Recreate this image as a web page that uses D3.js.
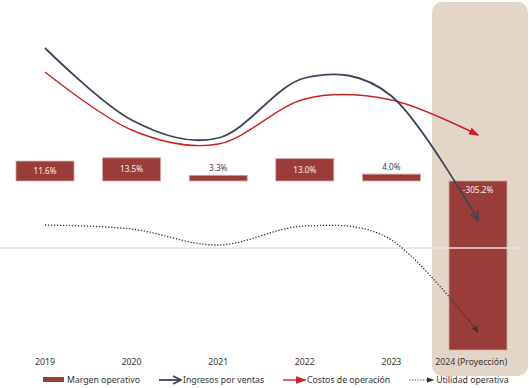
<!DOCTYPE html>
<html>
<head>
<meta charset="utf-8">
<script src="https://cdn.jsdelivr.net/npm/d3@7"></script>
<style>
  body { margin: 0; background: #fff; }
  text { font-family: "Noto Sans", sans-serif; }
</style>
</head>
<body>
<svg id="chart"></svg>
<script>
// Chart size
const width = 531, height = 388;

// Data
const years = ["2019", "2020", "2021", "2022", "2023", "2024 (Proyección)"];
const margen = [11.6, 13.5, 3.3, 13.0, 4.0, -305.2];     // Margen operativo (%)
const ingresos = [100, 64, 55, 85, 76, 14];               // Ingresos por ventas
const costos = [88, 59, 52, 74.5, 74, 56.5];              // Costos de operación
const utilidad = [11.5, 9.5, 1.5, 11, 4, -42];            // Utilidad operativa
const legendNames = ["Margen operativo", "Ingresos por ventas", "Costos de operación", "Utilidad operativa"];

const svg = d3.select("#chart")
    .attr("width", width)
    .attr("height", height);

// Scales
const x = d3.scaleBand()
    .domain(years)
    .range([1.7, 521.3])
    .paddingInner(0.33)
    .paddingOuter(0.165);
const cx = d => x(d) + x.bandwidth() / 2;

// bars: zero at 181, the big negative bar is cut at the bottom
const yBar = d3.scaleLinear()
    .domain([-98.5, 13.5])
    .range([350, 157.8])
    .clamp(true);

// lines: zero sits on the grey rule
const yLine = d3.scaleLinear()
    .domain([-50, 100])
    .range([348, 48]);

// Highlight for the projected year
svg.append("rect")
    .attr("x", x(years[5]) - 17)
    .attr("y", 2)
    .attr("width", 96)
    .attr("height", 374)
    .attr("rx", 10)
    .attr("fill", "#e3d6c9");

// Arrow markers
const defs = svg.append("defs");
function marker(id, color, size, path, open) {
    defs.append("marker")
        .attr("id", id)
        .attr("viewBox", "0 0 10 10")
        .attr("refX", 9)
        .attr("refY", 5)
        .attr("markerUnits", "userSpaceOnUse")
        .attr("markerWidth", size)
        .attr("markerHeight", size)
        .attr("orient", "auto")
        .append("path")
        .attr("d", path)
        .attr("fill", open ? "none" : color)
        .attr("stroke", color)
        .attr("stroke-width", open ? 1.8 : 0.5);
}
marker("arr-navy", "#3b4659", 10, "M1,1 L9,5 L1,9", true);
marker("arr-red", "#cc2020", 10, "M0,1.5 L10,5 L0,8.5 Z", false);
marker("arr-dot", "#333", 7, "M0,1.5 L10,5 L0,8.5 Z", false);

// Bars
const data = years.map((y, i) => ({ year: y, v: margen[i] }));
svg.selectAll("rect.bar")
    .data(data)
    .enter()
    .append("rect")
    .attr("class", "bar")
    .attr("x", d => x(d.year))
    .attr("width", x.bandwidth())
    .attr("y", d => Math.min(yBar(d.v), yBar(0)))
    .attr("height", d => Math.abs(yBar(d.v) - yBar(0)))
    .attr("fill", "#9a3d3a")
    .attr("stroke", "#d6a6a2")
    .attr("stroke-width", 0.8);

// Grey rule (line zero)
svg.append("line")
    .attr("x1", 0)
    .attr("x2", 522)
    .attr("y1", yLine(0))
    .attr("y2", yLine(0))
    .attr("stroke", "#e2e2e2")
    .attr("stroke-opacity", 0.75)
    .attr("stroke-width", 2);

// Bar labels
svg.selectAll("text.blabel")
    .data(data)
    .enter()
    .append("text")
    .attr("class", "blabel")
    .attr("x", d => cx(d.year))
    .attr("y", d => {
        const h = Math.abs(yBar(d.v) - yBar(0));
        if (d.v < 0) return yBar(0) + 12;
        return h < 12 ? yBar(d.v) - 4 : (yBar(d.v) + yBar(0)) / 2 + 3;
    })
    .attr("text-anchor", "middle")
    .attr("font-size", 8.2)
    .attr("fill", d => Math.abs(yBar(d.v) - yBar(0)) < 12 ? "#444" : "#fbeeee")
    .text(d => d.v.toFixed(1) + "%");

// Lines
const line = d3.line()
    .x((d, i) => cx(years[i]))
    .y(d => yLine(d))
    .curve(d3.curveCardinal.tension(0));

svg.append("path")
    .datum(costos)
    .attr("d", line)
    .attr("fill", "none")
    .attr("stroke", "#cc2020")
    .attr("stroke-width", 1.4)
    .attr("marker-end", "url(#arr-red)");

svg.append("path")
    .datum(ingresos)
    .attr("d", line)
    .attr("fill", "none")
    .attr("stroke", "#3b4659")
    .attr("stroke-width", 1.8)
    .attr("marker-end", "url(#arr-navy)");

svg.append("path")
    .datum(utilidad)
    .attr("d", line)
    .attr("fill", "none")
    .attr("stroke", "#333")
    .attr("stroke-width", 1.3)
    .attr("stroke-dasharray", "1.3,1.7")
    .attr("marker-end", "url(#arr-dot)");

// Category labels (the long projected label is right-aligned to its bar)
svg.selectAll("text.year")
    .data(years)
    .enter()
    .append("text")
    .attr("class", "year")
    .attr("x", (d, i) => i === 5 ? x(d) + x.bandwidth() : cx(d))
    .attr("y", 365)
    .attr("text-anchor", (d, i) => i === 5 ? "end" : "middle")
    .attr("font-size", 8.7)
    .attr("fill", "#333")
    .text(d => d);

// Legend
const legend = svg.append("g").attr("transform", "translate(0,380)");
let lx = 43;
legendNames.forEach((name, i) => {
    const g = legend.append("g").attr("transform", `translate(${lx},0)`);
    let sw = 22;
    if (i === 0) {
        g.append("rect").attr("x", 0).attr("y", -3).attr("width", 21).attr("height", 5).attr("fill", "#9a3d3a");
    } else if (i === 1) {
        g.append("line").attr("x1", 0).attr("x2", 22).attr("stroke", "#3b4659").attr("stroke-width", 1.8)
            .attr("marker-end", "url(#arr-navy)");
    } else if (i === 2) {
        g.append("line").attr("x1", 0).attr("x2", 22).attr("stroke", "#cc2020").attr("stroke-width", 1.4)
            .attr("marker-end", "url(#arr-red)");
    } else {
        g.append("line").attr("x1", 0).attr("x2", 24).attr("stroke", "#333").attr("stroke-width", 1.2)
            .attr("stroke-dasharray", "1.2,1.6").attr("marker-end", "url(#arr-dot)");
        sw = 25;
    }
    const t = g.append("text")
        .attr("x", sw + 2)
        .attr("y", 3)
        .attr("font-size", 8.7)
        .attr("fill", "#333")
        .text(name);
    lx += sw + 2 + t.node().getComputedTextLength() + 19;
});
</script>
</body>
</html>
